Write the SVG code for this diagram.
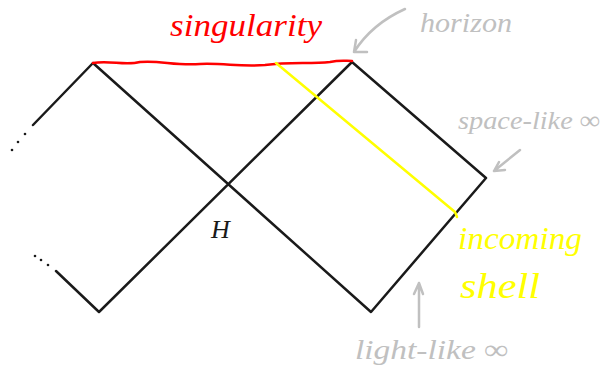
<svg xmlns="http://www.w3.org/2000/svg" width="603" height="378" viewBox="0 0 603 378">
<style>
.edge{fill:none;stroke:#1a1a1a;stroke-width:2.5;stroke-linecap:round;stroke-linejoin:round}
.dot{fill:#1a1a1a}
.note{font-family:"Liberation Serif",serif;font-style:italic;fill:#c0c0c0}
.gray{fill:none;stroke:#c0c0c0;stroke-width:2.5;stroke-linecap:round;stroke-linejoin:round}
.hand{font-family:"Liberation Serif",serif;font-style:italic}
</style>
<rect width="603" height="378" fill="#fff"/>
<g id="connectors">
  <path class="edge" d="M33,125 L93,63 L371,312 L486,178 L352,62 L99,312 L56,271"/>
  <path d="M93,63 C110,60 125,66 140,62 C160,60 175,66 200,64 C225,63 240,67 265,65 C290,62 310,64 330,62 C340,60 345,61 352,61" fill="none" stroke="#ff0000" stroke-width="2.5" stroke-linecap="round"/>
  <path d="M276,63 L455,212 L457,217" fill="none" stroke="#ffff00" stroke-width="2.5" stroke-linecap="round" stroke-linejoin="round"/>
  <path class="gray" d="M405,9 C385,18 368,30 354,52 M354,52 L356,40 M354,52 L367,52"/>
  <path class="gray" d="M520,150 L494,171 M494,171 L499,162 M494,171 L505,170"/>
  <path class="gray" d="M419,327 L419,283 M419,283 L414,294 M419,283 L423,294"/>
</g>
<g id="dots-upper">
  <circle class="dot" cx="25" cy="134" r="1.3"/>
  <circle class="dot" cx="18" cy="142" r="1.3"/>
  <circle class="dot" cx="12" cy="150" r="1.3"/>
</g>
<g id="dots-lower">
  <circle class="dot" cx="35" cy="256" r="1.3"/>
  <circle class="dot" cx="41" cy="260" r="1.3"/>
  <circle class="dot" cx="48" cy="265" r="1.3"/>
</g>
<g id="singularity"><text class="hand" x="170" y="36" font-size="32" fill="#ff0000" textLength="152" lengthAdjust="spacingAndGlyphs">singularity</text></g>
<g id="horizon"><text class="note" x="420" y="32" font-size="28" textLength="92" lengthAdjust="spacingAndGlyphs">horizon</text></g>
<g id="space-like"><text class="note" x="458" y="129" font-size="26" textLength="142" lengthAdjust="spacingAndGlyphs">space-like ∞</text></g>
<g id="light-like"><text class="note" x="355" y="359" font-size="28" textLength="153" lengthAdjust="spacingAndGlyphs">light-like ∞</text></g>
<g id="H"><text class="hand" x="211" y="238" font-size="26" fill="#1a1a1a">H</text></g>
<g id="incoming-shell">
  <text class="hand" x="458" y="249" font-size="32" fill="#ffff00" textLength="124" lengthAdjust="spacingAndGlyphs">incoming</text>
  <text class="hand" x="460" y="298" font-size="36" fill="#ffff00" textLength="80" lengthAdjust="spacingAndGlyphs">shell</text>
</g>
</svg>
